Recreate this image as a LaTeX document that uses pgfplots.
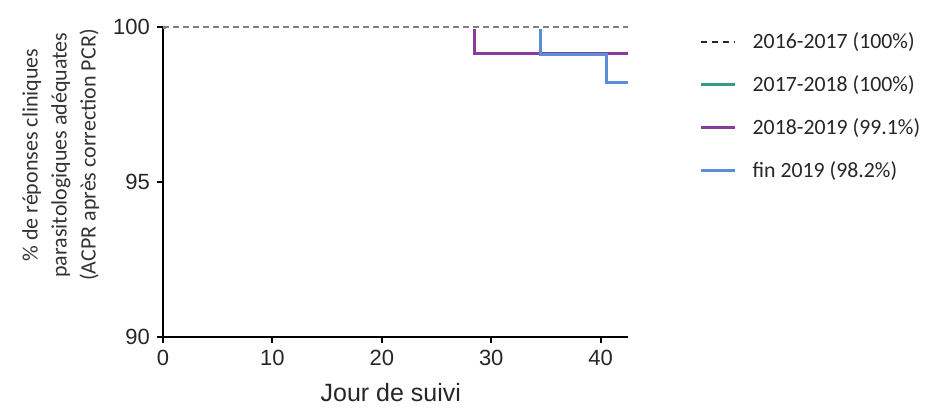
\documentclass[border=0pt]{standalone}
\usepackage{fontspec}
\setmainfont{Liberation Sans}
\newfontfamily\calfont{Carlito}
\usepackage{pgfplots}
\pgfplotsset{compat=1.18}
\definecolor{cgreen}{HTML}{2E9E88}
\definecolor{cpurple}{HTML}{8A3B9C}
\definecolor{cblue}{HTML}{5B8ED6}
\definecolor{cdash}{HTML}{555555}
\begin{document}
\begin{tikzpicture}
\useasboundingbox (-81.5pt,-36pt) rectangle (381pt,168.5pt);
\begin{axis}[at={(0,0)}, anchor=south west, scale only axis,
  width=232.5pt, height=155pt,
  xmin=0, xmax=42.5, ymin=90, ymax=100,
  axis lines=left, axis line style={line width=1pt, -, black},
  xtick={0,10,20,30,40}, ytick={90,95,100},
  tick style={line width=1pt, black}, major tick length=3pt, tick align=outside,
  /pgf/number format/assume math mode=true,
  ticklabel style={font=\fontsize{11}{13}\selectfont, text=black!85},
  xlabel={Jour de suivi},
  xlabel style={font=\fontsize{12.5}{15}\selectfont, text=black!85, at={(axis description cs:0.49,-0.18)}, anchor=center},
  ylabel={\% de réponses cliniques\\parasitologiques adéquates\\(ACPR après correction PCR)},
  ylabel style={align=center, font=\calfont\fontsize{11}{14.5}\selectfont, text=black!80, at={(axis description cs:-0.22,0.587)}, anchor=center},
  clip=false,
  legend style={at={(axis description cs:1.14,1.01)}, anchor=north west, draw=none, fill=none,
    font=\calfont\fontsize{10.9}{12}\selectfont, text=black!85, row sep=8pt, column sep=6pt},
  legend cell align=left,
]
\addplot[black!85, line width=1pt, dash pattern=on 3pt off 2.5pt] coordinates {(0,100) (42.5,100)};
\addlegendentry{2016-2017 (100\%)}
\addplot[cgreen, line width=1.5pt] coordinates {(0,100) (42.5,100)};
\addlegendentry{2017-2018 (100\%)}
\addplot[cpurple, line width=1.5pt] coordinates {(0,100) (28.5,100) (28.5,99.15) (42.5,99.15)};
\addlegendentry{2018-2019 (99.1\%)}
\addplot[cblue, line width=1.5pt] coordinates {(0,100) (34.5,100) (34.5,99.1) (40.5,99.1) (40.5,98.2) (42.5,98.2)};
\addlegendentry{fin 2019 (98.2\%)}
\addplot[white, line width=1.6pt, forget plot] coordinates {(0.3,100) (42.5,100)};
\addplot[cdash!75, line width=0.9pt, dash pattern=on 3pt off 2pt, forget plot] coordinates {(0,100) (42.5,100)};
\end{axis}
\end{tikzpicture}
\end{document}
